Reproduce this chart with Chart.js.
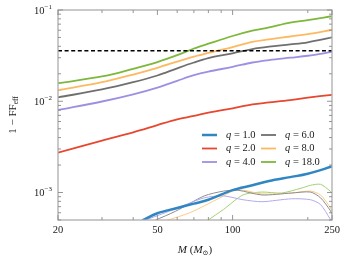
<!DOCTYPE html>
<html>
<head>
<meta charset="utf-8">
<script src="https://cdn.jsdelivr.net/npm/chart.js@4.4.0/dist/chart.umd.min.js"></script>
<style>
  html, body { margin: 0; padding: 0; background: #fff; }
  #wrap { width: 345px; height: 260px; }
</style>
</head>
<body>
<div id="wrap"><canvas id="ffChart" width="345" height="260"></canvas></div>
<script>
// total mass M (solar masses) where the thick curves were read
const massGrid = [20, 30, 40, 50, 60, 70, 80, 100, 120, 140, 170, 200, 250];
const massQ1 = [43.5, 50, 60, 70, 80, 100, 120, 140, 170, 200, 250];

// 1 - FF_eff, thick curves
const ffQ1 = [0.000494, 0.000593, 0.000677, 0.000756, 0.000833, 0.001062, 0.001199, 0.001338, 0.001475, 0.001606, 0.001927];
const ffQ2 = [0.00274, 0.00371, 0.00457, 0.00548, 0.00634, 0.0069, 0.00751, 0.00838, 0.00924, 0.0097, 0.01031, 0.01095, 0.01178];
const ffQ4 = [0.00799, 0.00994, 0.01192, 0.01414, 0.01676, 0.0193, 0.02112, 0.02383, 0.02659, 0.02826, 0.03002, 0.03152, 0.03474];
const ffQ6 = [0.01103, 0.01346, 0.01616, 0.01916, 0.02298, 0.02660, 0.02967, 0.0335, 0.03737, 0.03972, 0.04200, 0.0443, 0.05003];
const ffQ8 = [0.0132, 0.01616, 0.01963, 0.02326, 0.02724, 0.03092, 0.03391, 0.03924, 0.04485, 0.04766, 0.05125, 0.05446, 0.06076];
const ffQ18 = [0.01577, 0.01869, 0.0227, 0.02690, 0.03200, 0.03783, 0.04272, 0.05188, 0.0593, 0.06457, 0.07293, 0.07748, 0.08541];

// thin curves (second set, no legend entry)
const thinMassQ4 = [44, 57, 77, 92, 110, 131, 172, 205, 225, 246, 250];
const thinQ4 = [0.00049, 0.000638, 0.000875, 0.000918, 0.000834, 0.000793, 0.000854, 0.000834, 0.000738, 0.000513, 0.00049];
const thinMassQ6 = [49, 59, 77, 92, 105, 131, 172, 205, 225, 246, 250];
const thinQ6 = [0.000497, 0.000622, 0.000918, 0.001037, 0.00106, 0.00094, 0.000987, 0.001012, 0.000875, 0.000637, 0.000578];
const thinMassQ8 = [54, 68, 89, 100, 110, 131, 172, 205, 225, 246, 250];
const thinQ8 = [0.00049, 0.000607, 0.000875, 0.001037, 0.001062, 0.000964, 0.000987, 0.001037, 0.00094, 0.000685, 0.000607];
const thinMassQ18 = [79, 92, 110, 131, 157, 188, 205, 225, 246, 250];
const thinQ18 = [0.00049, 0.000653, 0.00094, 0.001012, 0.000987, 0.001115, 0.0012, 0.00123, 0.001037, 0.000987];

// dashed threshold
const thresholdMass = [20, 250];
const thresholdValue = 0.0358;

const qLabels = ["1.0", "2.0", "4.0", "6.0", "8.0", "18.0"];
const xTickLabels = [20, 50, 100, 250];
const xMinorTicks = [30, 40, 60, 70, 80, 90, 200];
const yDecades = [-1, -2, -3];

const colors = {
  q1: "#2f86c3", q2: "#e8472f", q4: "#9d90e2", q6: "#6f6f6f", q8: "#fdb961", q18: "#7db83c",
  t4: "#b2a9ec", t6: "#8d8d8d", t8: "#fdca82", t18: "#a2d072"
};

function pts(xs, ys) {
  return xs.map((m, i) => ({ x: m, y: ys[i] }));
}

function thick(data, color, w) {
  return { data: data, borderColor: color, borderWidth: w, pointRadius: 0, fill: false,
    tension: 0.35, order: 1 };
}
function thin(data, color) {
  return { data: data, borderColor: color, borderWidth: 1, pointRadius: 0, fill: false,
    tension: 0.25, order: 2 };
}

const SERIF = "'Liberation Serif', 'DejaVu Serif', serif";

// draws all axis decoration: frame, inward ticks, labels, legend
const axisDeco = {
  id: "axisDeco",
  afterDraw(chart) {
    const ctx = chart.ctx;
    const { left, right, top, bottom } = chart.chartArea;
    const xs = chart.scales.x, ys = chart.scales.y;
    ctx.save();

    ctx.strokeStyle = "#adadad";
    ctx.lineWidth = 1.3;
    ctx.strokeRect(left, top, right - left, bottom - top);

    ctx.strokeStyle = "#8a8a8a";
    ctx.lineWidth = 0.9;
    function vtick(v, len) {
      const p = xs.getPixelForValue(v);
      ctx.beginPath();
      ctx.moveTo(p, bottom); ctx.lineTo(p, bottom - len);
      ctx.moveTo(p, top); ctx.lineTo(p, top + len);
      ctx.stroke();
    }
    function htick(v, len) {
      const p = ys.getPixelForValue(v);
      ctx.beginPath();
      ctx.moveTo(left, p); ctx.lineTo(left + len, p);
      ctx.moveTo(right, p); ctx.lineTo(right - len, p);
      ctx.stroke();
    }
    xTickLabels.forEach(v => vtick(v, 5));
    xMinorTicks.forEach(v => vtick(v, 3));
    yDecades.forEach(e => {
      htick(Math.pow(10, e), 5);
      for (let k = 2; k <= 9; k++) {
        const v = k * Math.pow(10, e - 1);
        if (v >= ys.min) htick(v, 3);
      }
    });

    ctx.fillStyle = "#1a1a1a";
    // x tick labels
    ctx.font = "10.5px " + SERIF;
    ctx.textAlign = "center";
    ctx.textBaseline = "middle";
    xTickLabels.forEach(v => ctx.fillText(String(v), xs.getPixelForValue(v), bottom + 10));

    // y tick labels 10^n
    yDecades.forEach(e => {
      const p = ys.getPixelForValue(Math.pow(10, e));
      const sup = "\u2212" + Math.abs(e);
      ctx.font = "7px " + SERIF;
      const ws = ctx.measureText(sup).width;
      ctx.font = "10.5px " + SERIF;
      const wb = ctx.measureText("10").width;
      const xr = left - 6;
      ctx.textAlign = "left";
      ctx.fillText("10", xr - ws - wb, p + 1);
      ctx.font = "7px " + SERIF;
      ctx.fillText(sup, xr - ws, p - 3);
    });

    // x axis title: M (M_sun)
    const parts = [["M", "italic 11px "], [" (", "11px "], ["M", "italic 11px "], ["\u2299", "7px "], [")", "11px "]];
    let total = 0;
    parts.forEach(pp => { ctx.font = pp[1] + SERIF; total += ctx.measureText(pp[0]).width; });
    let cx = (left + right) / 2 - total / 2;
    ctx.textAlign = "left";
    parts.forEach(pp => {
      ctx.font = pp[1] + SERIF;
      ctx.fillText(pp[0], cx, pp[0] === "\u2299" ? 253 : 250);
      cx += ctx.measureText(pp[0]).width;
    });

    // y axis title: 1 - FF_eff
    ctx.save();
    ctx.translate(13, (top + bottom) / 2);
    ctx.rotate(-Math.PI / 2);
    ctx.font = "11px " + SERIF;
    const main = "1 \u2212 FF";
    const wm = ctx.measureText(main).width;
    ctx.font = "7.5px " + SERIF;
    const we = ctx.measureText("eff").width;
    ctx.font = "11px " + SERIF;
    ctx.fillText(main, -(wm + we) / 2, 0);
    ctx.font = "7.5px " + SERIF;
    ctx.fillText("eff", -(wm + we) / 2 + wm, 3);
    ctx.restore();

    // legend, two columns
    const entries = [
      [colors.q1, 2.5], [colors.q2, 1.8], [colors.q4, 1.8],
      [colors.q6, 1.8], [colors.q8, 1.8], [colors.q18, 1.8]
    ];
    const colX = [202, 261];
    const rowY = [135, 148.5, 162];
    entries.forEach((en, i) => {
      const c = Math.floor(i / 3), r = i % 3;
      const lx = colX[c], ly = rowY[r];
      ctx.strokeStyle = en[0];
      ctx.lineWidth = en[1];
      ctx.beginPath();
      ctx.moveTo(lx, ly); ctx.lineTo(lx + 15, ly);
      ctx.stroke();
      let tx = lx + 24;
      ctx.fillStyle = "#1a1a1a";
      ctx.font = "italic 10.5px " + SERIF;
      ctx.fillText("q", tx, ly);
      tx += ctx.measureText("q").width;
      ctx.font = "10.5px " + SERIF;
      ctx.fillText(" = " + qLabels[i], tx, ly);
    });

    ctx.restore();
  }
};

new Chart(document.getElementById("ffChart"), {
  type: "line",
  data: {
    datasets: [
      { data: pts(thresholdMass, [thresholdValue, thresholdValue]), borderColor: "#000", borderWidth: 1.4,
        borderDash: [4, 2.6], pointRadius: 0, fill: false, order: 0 },
      thick(pts(massQ1, ffQ1), colors.q1, 2.5),
      thick(pts(massGrid, ffQ2), colors.q2, 1.8),
      thick(pts(massGrid, ffQ4), colors.q4, 1.8),
      thick(pts(massGrid, ffQ6), colors.q6, 1.8),
      thick(pts(massGrid, ffQ8), colors.q8, 1.8),
      thick(pts(massGrid, ffQ18), colors.q18, 1.8),
      thin(pts(thinMassQ4, thinQ4), colors.t4),
      thin(pts(thinMassQ6, thinQ6), colors.t6),
      thin(pts(thinMassQ8, thinQ8), colors.t8),
      thin(pts(thinMassQ18, thinQ18), colors.t18)
    ]
  },
  options: {
    responsive: false,
    animation: false,
    devicePixelRatio: 1,
    layout: { padding: { left: 50, right: 13, top: 10, bottom: 32 } },
    plugins: { legend: { display: false }, tooltip: { enabled: false } },
    scales: {
      x: { type: "logarithmic", min: 20, max: 250,
        ticks: { display: false }, grid: { display: false }, border: { display: false } },
      y: { type: "logarithmic", min: 5e-4, max: 0.1,
        ticks: { display: false }, grid: { display: false }, border: { display: false } }
    }
  },
  plugins: [axisDeco]
});
</script>
</body>
</html>
